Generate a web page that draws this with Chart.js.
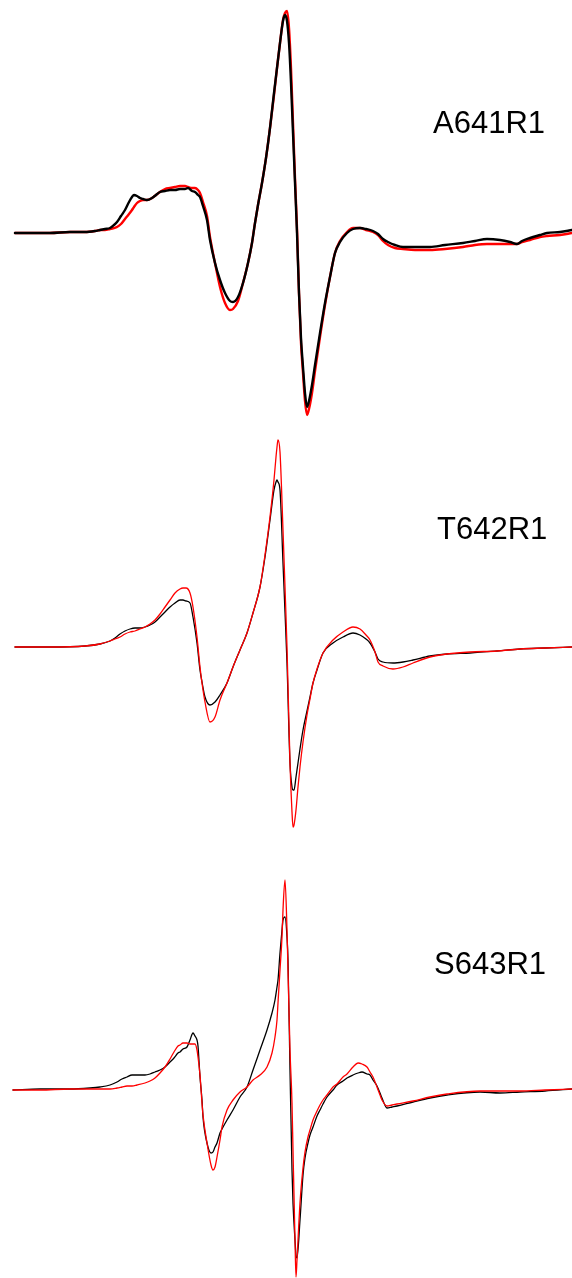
<!DOCTYPE html>
<html>
<head>
<meta charset="utf-8">
<script src="https://cdn.jsdelivr.net/npm/chart.js@4.4.1/dist/chart.umd.min.js"></script>
<style>
  html, body { margin: 0; padding: 0; background: #fff; }
  #wrap { position: relative; width: 572px; height: 1278px; overflow: hidden; }
  canvas { position: absolute; left: 0; }
  .lbl { position: absolute; font-family: "Liberation Sans", Arial, sans-serif; font-size: 31px;
         color: #000; line-height: 1; white-space: nowrap; transform: translateY(-50%); }
</style>
</head>
<body>
<div id="wrap">
  <canvas id="c1" width="572" height="430" style="top:0px"></canvas>
  <canvas id="c2" width="572" height="430" style="top:430px"></canvas>
  <canvas id="c3" width="572" height="418" style="top:860px"></canvas>
  <div class="lbl" id="l1"></div>
  <div class="lbl" id="l2"></div>
  <div class="lbl" id="l3"></div>
</div>
<script>
// Sample names
const labels = ["A641R1", "T642R1", "S643R1"];

// ---- A641R1: field positions and derivative intensities (arb. units) ----
const a641Field = [15,30,50,70,85,95,100,105,110,114,117,121,125,129,132,134,137,140,143,147,152,156,160,165,170,175,180,185,188,192,195,198,200,203,207,210,215,220,225,230,233,238,243,248,252,255,258,262,266,270,274,277,280,283,285,287,289,291,293,295,297,299,301,303,305,307,309,312,315,320,325,330,335,340,347,353,360,366,373,378,383,388,395,403,415,430,445,463,475,487,500,510,517,522,530,540,547,560,572];
const a641Exp = [0,0,0,1,1,2,3,4,5,8,11,17,23,31,36,38,37,35,34,33,35,38,41,42,43,43,44,44,45,42,41,38,36,27,13,-7,-30,-47,-60,-68,-69,-64,-50,-30,-10,10,28,50,75,105,140,165,190,212,218,212,190,150,100,50,0,-60,-105,-134,-160,-174,-168,-152,-132,-100,-70,-44,-20,-9,0,4,5,4,2,-1,-6,-9,-12,-14,-14,-14,-12,-10,-8,-6,-7,-9,-11,-8,-5,-2,0,1,3];
const a641Sim = [0,0,0,1,1,2,3,3,4,5,6,9,14,19,23,26,30,32,33,33,35,38,41,44,45,46,47,47,46,45,45,43,40,31,17,-4,-30,-54,-70,-77,-76,-68,-50,-30,-10,10,28,50,75,105,138,165,190,213,220,222,205,165,110,55,5,-60,-110,-140,-168,-182,-176,-160,-138,-104,-72,-44,-20,-8,1,5,5,3,1,-2,-8,-12,-15,-16,-17,-17,-16,-14,-12,-11,-11,-11,-11,-9,-7,-4,-3,-2,0];

// ---- T642R1 ----
const t642Field = [15,50,85,100,110,115,120,125,130,135,140,145,150,155,160,165,170,175,180,183,186,190,193,197,200,202,205,210,215,220,227,233,240,247,253,260,265,270,274,276,277,278,280,283,285,287,290,292,293,294,296,298,300,303,307,310,313,317,323,333,343,353,360,366,370,375,378,383,393,403,413,430,447,470,497,520,545,572];
const t642Exp = [0,0,1,3,6,9,13,16,18,19,19,20,22,25,30,35,40,44,47,47,46,44,30,4,-23,-35,-50,-58,-55,-48,-36,-20,-3,14,34,60,90,127,157,165,167,165,157,84,35,-16,-116,-140,-143,-143,-130,-116,-102,-83,-64,-50,-36,-23,-6,4,10,14,12,8,4,-5,-12,-15,-16,-15,-13,-9,-7,-6,-4,-2,-1,0];
const t642Sim = [0,0,1,3,6,8,10,13,15,16,18,20,23,27,33,40,47,54,58,59,59,54,40,10,-20,-36,-55,-75,-70,-53,-36,-20,-3,14,34,60,92,130,167,190,200,207,195,117,60,0,-116,-165,-180,-178,-163,-140,-120,-95,-68,-52,-36,-22,-6,7,15,20,18,12,7,-5,-15,-19,-22,-20,-16,-10,-7,-5,-4,-2,-1,0];

// ---- S643R1 ----
const s643Field = [13,40,70,90,100,110,117,122,127,132,137,145,150,155,160,165,170,174,178,180,183,187,190,193,195,197,198,200,202,203,207,211,213,215,217,220,222,227,233,240,247,253,260,267,272,275,277,278,280,282,283,285,287,288,290,292,293,295,296,297,300,303,305,308,310,313,317,320,323,327,333,337,343,347,353,358,362,367,370,373,377,380,382,387,392,397,413,430,447,480,500,520,545,572];
const s643Exp = [0,1,1,2,3,5,8,11,13,15,15,15,16,18,20,23,28,32,37,38,41,43,50,57,54,50,44,13,-10,-27,-53,-63,-62,-57,-53,-43,-39,-30,-20,-7,3,20,40,60,77,90,103,110,137,160,170,173,153,130,20,-80,-113,-150,-165,-168,-130,-85,-68,-53,-45,-37,-26,-20,-14,-7,0,5,9,12,15,17,18,16,15,10,4,-3,-8,-18,-17,-16,-12,-8,-5,-2,-3,-2,-1,1];
const s643Sim = [0,0,1,1,1,1,2,3,4,4,5,7,9,12,17,23,31,38,44,45,47,47,46,46,46,40,33,15,-13,-25,-53,-75,-80,-77,-67,-50,-37,-20,-10,-2,3,10,15,23,37,53,70,87,120,153,180,210,160,120,40,-13,-60,-150,-187,-170,-113,-78,-62,-47,-40,-30,-21,-15,-10,-5,3,6,13,16,23,27,26,23,18,13,3,-5,-10,-16,-15,-14,-11,-7,-4,-1,-1,-1,0,1];

// Vertical window of each panel (intensity at top and bottom edge of its canvas)
const panels = [
  { id: "c1", field: a641Field, exp: a641Exp, sim: a641Sim, yMax: 233, yMin: -197, width: 2.4, expOnTop: true },
  { id: "c2", field: t642Field, exp: t642Exp, sim: t642Sim, yMax: 217, yMin: -213, width: 1.3, expOnTop: false },
  { id: "c3", field: s643Field, exp: s643Exp, sim: s643Sim, yMax: 230, yMin: -188, width: 1.3, expOnTop: false }
];

const toPoints = (xs, ys) => xs.map((x, i) => ({ x: x, y: ys[i] }));

panels.forEach((p, idx) => {
  const expSet = {
    label: labels[idx] + " exp", data: toPoints(p.field, p.exp),
    borderColor: "#000000", borderWidth: p.width, order: p.expOnTop ? 0 : 1
  };
  const simSet = {
    label: labels[idx] + " sim", data: toPoints(p.field, p.sim),
    borderColor: "#ff0000", borderWidth: p.width, order: p.expOnTop ? 1 : 0
  };
  new Chart(document.getElementById(p.id), {
    type: "line",
    data: { datasets: [expSet, simSet] },
    options: {
      responsive: false, animation: false, devicePixelRatio: 1,
      layout: { padding: 0 },
      elements: { point: { radius: 0 }, line: { cubicInterpolationMode: "monotone", borderJoinStyle: "round", borderCapStyle: "round" } },
      datasets: { line: { clip: false, fill: false } },
      plugins: { legend: { display: false }, tooltip: { enabled: false }, title: { display: false } },
      scales: {
        x: { type: "linear", display: false, min: 0, max: 572 },
        y: { type: "linear", display: false, min: p.yMin, max: p.yMax }
      }
    }
  });
});

// Sample labels
const lblPos = [[433, 122], [437, 528], [434, 963]];
labels.forEach((t, i) => {
  const el = document.getElementById("l" + (i + 1));
  el.textContent = t;
  el.style.left = lblPos[i][0] + "px";
  el.style.top = lblPos[i][1] + "px";
});
</script>
</body>
</html>
